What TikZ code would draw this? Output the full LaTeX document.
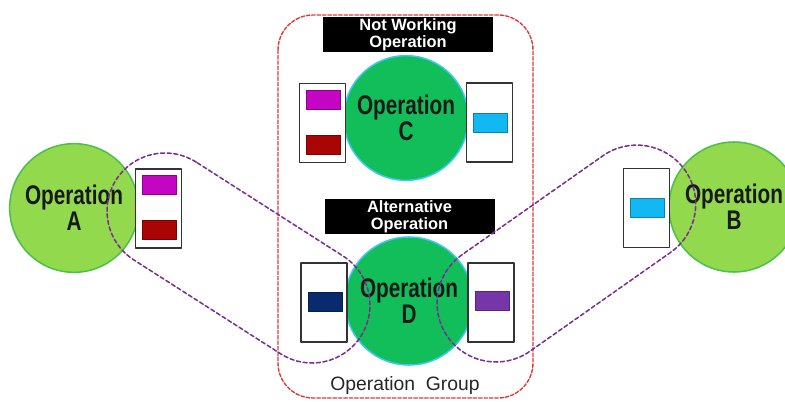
\documentclass[tikz,border=0pt]{standalone}
\usepackage{fontspec}
\setmainfont{Liberation Sans}
\newfontfamily\opfont[FakeStretch=0.77]{Liberation Sans}
\usetikzlibrary{shadows}

\definecolor{sidegreen}{HTML}{92D94E}
\definecolor{sideedge}{HTML}{4CC04A}
\definecolor{midgreen}{HTML}{12BE5A}
\definecolor{midedge}{HTML}{3EC8F0}
\definecolor{groupred}{HTML}{DD3A3A}
\definecolor{loopviolet}{HTML}{7A2E8E}
\definecolor{tagmagenta}{HTML}{C405C4}
\definecolor{tagred}{HTML}{AA0505}
\definecolor{tagcyan}{HTML}{12B8F2}
\definecolor{tagnavy}{HTML}{0A2A6E}
\definecolor{tagpurple}{HTML}{7636AA}

\begin{document}
\begin{tikzpicture}[line cap=round,line join=round,x=0.03cm,y=0.03cm,
  sideop/.style={circle,draw=sideedge,line width=1.3pt,fill=sidegreen,minimum size=3.86cm,inner sep=0pt,
    align=center,text=black!90,font=\opfont\bfseries\fontsize{23}{22}\selectfont},
  midop/.style={sideop,draw=midedge,fill=midgreen,minimum size=3.74cm},
  port/.style={rectangle,draw=black!80,line width=1pt,fill=white,minimum width=1.38cm,minimum height=2.37cm,inner sep=0pt},
  tag/.style={rectangle,draw=#1!70!black,line width=0.4pt,fill=#1,minimum width=1.02cm,minimum height=0.58cm,inner sep=0pt,
    drop shadow={opacity=0.35,shadow xshift=0.7pt,shadow yshift=-0.7pt}},
  blackbar/.style={rectangle,fill=black,minimum width=5.1cm,minimum height=1.05cm,inner sep=0pt,text=white,align=center,
    font=\bfseries\fontsize{14}{14.5}\selectfont},
  groupframe/.style={draw=groupred,line width=1.2pt,dash pattern=on 3pt off 1.6pt,rounded corners=1.05cm},
  loopline/.style={draw=loopviolet,line width=1.3pt,dash pattern=on 3.5pt off 2.2pt}]
\useasboundingbox (0,-402) rectangle (785,0);
\clip (0,-402) rectangle (785,0);
% operation group
\draw[groupframe] (278,-15) rectangle (533,-398);
\node[font=\fontsize{16.5}{18}\selectfont,text=black!85] (grouplabel) at (405,-386) {Operation\ \ Group};
\node[blackbar] (notworking) at (408,-34.5) {Not Working\\Operation};
\node[blackbar] (alternative) at (409.5,-216.5) {Alternative\\Operation};
% operations
\node[sideop] (opA) at (74,-208) {Operation\\A};
\node[sideop,minimum size=3.9cm] (opB) at (734,-207) {Operation\\B};
\node[midop] (opC) at (406,-118) {Operation\\C};
\node[midop,minimum size=3.84cm] (opD) at (409,-301) {Operation\\D};
% ports
\node[port] (portA) at (158.5,-208.5) {};
\node[port] (portCL) at (322.5,-123) {};
\node[port] (portCR) at (489.5,-122.5) {};
\node[port] (portDL) at (324,-302.5) {};
\node[port] (portDR) at (491,-302.5) {};
\node[port] (portB) at (646.5,-208) {};
\node[tag=tagmagenta] (tagA1) at (159,-185) {};
\node[tag=tagred] (tagA2) at (159,-230) {};
\node[tag=tagmagenta] (tagC1) at (323.5,-100) {};
\node[tag=tagred] (tagC2) at (323.5,-145) {};
\node[tag=tagcyan] (tagC3) at (490,-122.5) {};
\node[tag=tagnavy] (tagD1) at (325,-301.5) {};
\node[tag=tagpurple] (tagD2) at (492,-300.5) {};
\node[tag=tagcyan] (tagB1) at (647,-207.5) {};
% links
\begin{scope}[shift={(165,-211)},rotate=-32.6]
\draw[loopline] (0,58) arc[start angle=90,end angle=270,radius=58] -- (174.5,-58) arc[start angle=-90,end angle=90,radius=58] -- cycle;
\end{scope}
\begin{scope}[shift={(496,-303)},rotate=35.1]
\draw[loopline] (0,59) arc[start angle=90,end angle=270,radius=59] -- (172,-59) arc[start angle=-90,end angle=90,radius=59] -- cycle;
\end{scope}
\end{tikzpicture}
\end{document}
